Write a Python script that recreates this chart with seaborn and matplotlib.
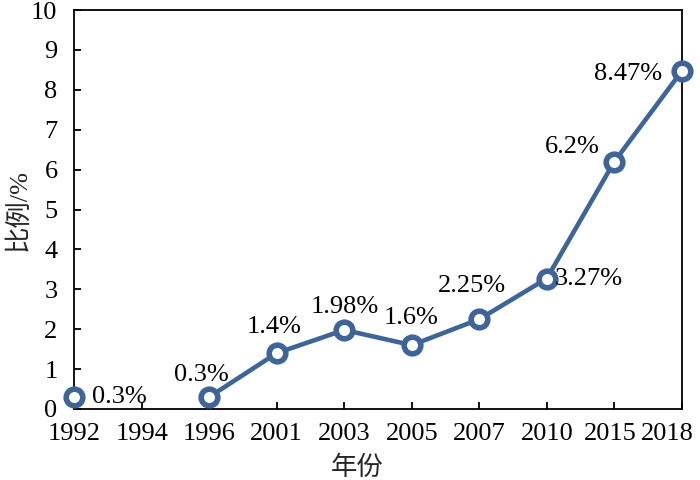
#!/usr/bin/env python3

import numpy as np
import pandas as pd
import matplotlib

matplotlib.use("Agg")
import matplotlib.pyplot as plt
import matplotlib.transforms as mtransforms
import seaborn as sns

# data
years = ["1992", "1994", "1996", "2001", "2003", "2005", "2007", "2010", "2015", "2018"]
ratio = [0.3, np.nan, 0.3, 1.4, 1.98, 1.6, 2.25, 3.27, 6.2, 8.47]
labels = ["0.3%", "", "0.3%", "1.4%", "1.98%", "1.6%", "2.25%", "3.27%", "6.2%", "8.47%"]

# label placement (pixel offsets from the point, horizontal alignment)
label_offsets = [(18, 0, "left"), None, (-8, 22, "center"), (-3, 26, "center"),
                 (1, 23, "center"), (-1, 27, "center"), (-7, 33, "center"),
                 (8, 0, "left"), (-15, 15, "right"), (-20, -3, "right")]

COLOR = "#3f6598"
SERIF_CJK = ["Liberation Serif", "Noto Sans CJK SC"]

df = pd.DataFrame({"pos": np.arange(len(years)), "ratio": ratio, "label": labels})
# a missing year breaks the line into separate segments
df["segment"] = df["ratio"].isna().cumsum()
df = df.dropna(subset=["ratio"])

sns.set_theme(style="ticks")
plt.rcParams["font.family"] = SERIF_CJK

fig, ax = plt.subplots(figsize=(7, 4.8), dpi=100)
fig.subplots_adjust(left=0.106, right=0.974, bottom=0.148, top=0.979)

sns.lineplot(
    data=df, x="pos", y="ratio", units="segment", estimator=None,
    color=COLOR, linewidth=3.3, marker="o", markersize=12,
    markerfacecolor="white", markeredgecolor=COLOR, markeredgewidth=4,
    ax=ax, clip_on=False, zorder=3,
)

for _, row in df.iterrows():
    dx, dy, ha = label_offsets[int(row["pos"])]
    ax.annotate(
        row["label"], (row["pos"], row["ratio"]), xytext=(dx, dy),
        textcoords="offset pixels", ha=ha, va="center", fontsize=19,
        family=SERIF_CJK, color="black",
    )

ax.set_xlim(0, len(years) - 1)
ax.set_ylim(0, 10)
ax.set_xticks(range(len(years)))
ax.set_xticklabels(years)
ax.set_yticks(range(0, 11))

for side in ["top", "right", "left", "bottom"]:
    ax.spines[side].set_visible(True)
    ax.spines[side].set_color("black")
    ax.spines[side].set_linewidth(1.3)

ax.tick_params(direction="in", length=5, width=1.3, labelsize=19,
               colors="black", top=False, right=False)
ax.tick_params(axis="x", pad=10)
ax.tick_params(axis="y", pad=12)

# the last two year labels are nudged left to fit, as in the reference
for lbl, shift in zip(ax.get_xticklabels()[-2:], (-4, -14)):
    lbl.set_transform(lbl.get_transform()
                      + mtransforms.ScaledTranslation(shift / 100, 0, fig.dpi_scale_trans))

ax.set_xlabel("年份", fontsize=19, family=SERIF_CJK)
ax.set_ylabel("比例/%", fontsize=19, family=SERIF_CJK)
ax.xaxis.set_label_coords(0.465, -0.118)
ax.yaxis.set_label_coords(-0.072, 0.5)

plt.savefig("out.png")
